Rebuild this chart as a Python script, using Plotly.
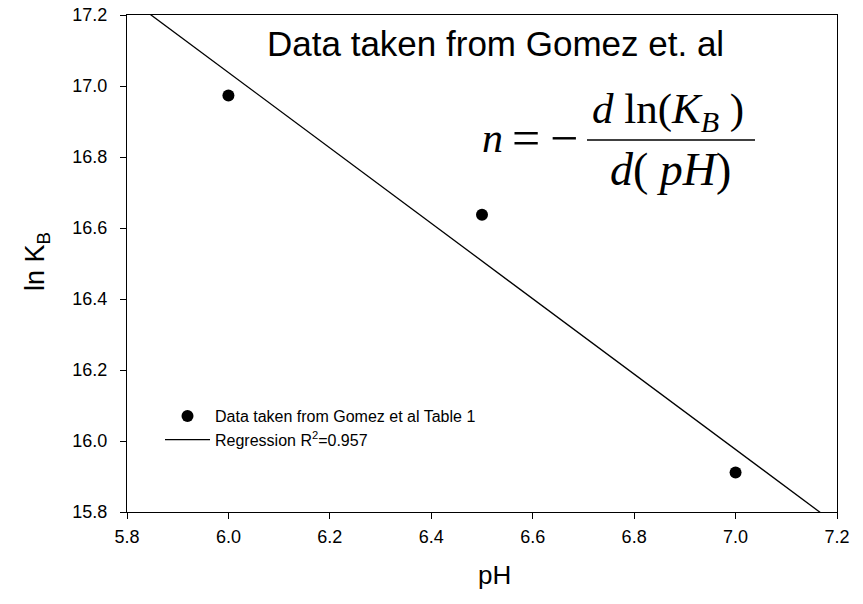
import numpy as np
import plotly.graph_objects as go

# ---- data ----
pH = [6.0, 6.5, 7.0]
ln_KB = [16.973, 16.637, 15.911]
series_names = ["Data taken from Gomez et al Table 1", "Regression R<sup>2</sup>=0.957"]
x_range = [5.8, 7.2]
y_range = [15.8, 17.2]
title_text = "Data taken from Gomez et. al"

# regression fit
slope, intercept = np.polyfit(pH, ln_KB, 1)
x_fit = np.array(x_range)
y_fit = slope * x_fit + intercept

SANS = "Arial, Liberation Sans, sans-serif"
SERIF = "Times New Roman, Liberation Serif, serif"

fig = go.Figure()
fig.add_trace(go.Scatter(
    x=pH, y=ln_KB, mode="markers", name=series_names[0],
    marker=dict(color="black", size=12, line=dict(width=0)),
))
fig.add_trace(go.Scatter(
    x=x_fit, y=y_fit, mode="lines", name=series_names[1],
    line=dict(color="black", width=1.3),
))

W, H = 863, 604
PL, PT, PR, PB = 127, 15, 837, 512          # plot area in page pixels
L, T = PL, PT
R, B = W - PR, H - PB
pw, ph = PR - PL, PB - PT


def px(xp):
    return (xp - PL) / pw


def py(yp):
    return (PB - yp) / ph


annotations = [
    dict(text=title_text, x=px(495), y=py(43), xref="paper", yref="paper",
         showarrow=False, xanchor="center", yanchor="middle",
         font=dict(family=SANS, size=35, color="black")),
    dict(text="pH", x=px(494), y=py(575), xref="paper", yref="paper",
         showarrow=False, xanchor="center", yanchor="middle",
         font=dict(family=SANS, size=26, color="black")),
    dict(text="ln K<sub>B</sub>", x=px(37), y=py(262), xref="paper", yref="paper",
         showarrow=False, xanchor="center", yanchor="middle", textangle=-90,
         font=dict(family=SANS, size=27, color="black")),
    # equation n = - d ln(K_B) / d(pH)
    dict(text="<i>n</i>", x=px(492), y=py(138), xref="paper", yref="paper",
         showarrow=False, xanchor="center", yanchor="middle",
         font=dict(family=SERIF, size=42, color="black")),
    dict(text="=", x=px(526), y=py(138), xref="paper", yref="paper",
         showarrow=False, xanchor="center", yanchor="middle",
         font=dict(family=SERIF, size=50, color="black")),
    dict(text="\u2212", x=px(564), y=py(138), xref="paper", yref="paper",
         showarrow=False, xanchor="center", yanchor="middle",
         font=dict(family=SERIF, size=50, color="black")),
    dict(text="<i>d</i> ln(<i>K</i><sub><i>B</i></sub> )", x=px(668), y=py(112),
         xref="paper", yref="paper",
         showarrow=False, xanchor="center", yanchor="middle",
         font=dict(family=SERIF, size=43, color="black")),
    dict(text="<i>d</i>( <i>pH</i>)", x=px(670), y=py(169), xref="paper", yref="paper",
         showarrow=False, xanchor="center", yanchor="middle",
         font=dict(family=SERIF, size=46, color="black")),
]

shapes = [
    dict(type="line", xref="paper", yref="paper", x0=px(587), x1=px(755),
         y0=py(140), y1=py(140), line=dict(color="black", width=1.6)),
]

axis_common = dict(
    showline=True, linecolor="black", linewidth=1, mirror=True,
    ticks="outside", ticklen=6, tickwidth=1, tickcolor="black",
    showgrid=False, zeroline=False, dtick=0.2, tickformat=".1f",
    tickfont=dict(family=SANS, size=18, color="black"),
    automargin=False,
)

fig.update_layout(
    width=W, height=H,
    margin=dict(l=L, r=R, t=T, b=B),
    paper_bgcolor="white", plot_bgcolor="white",
    xaxis=dict(range=x_range, ticklabelstandoff=2, **axis_common),
    yaxis=dict(range=y_range, ticklabelstandoff=9, **axis_common),
    showlegend=True,
    legend=dict(x=px(160), y=py(399), xanchor="left", yanchor="top",
                bgcolor="rgba(0,0,0,0)", borderwidth=0,
                font=dict(family=SANS, size=16, color="black"),
                itemwidth=45, tracegroupgap=0),
    annotations=annotations,
    shapes=shapes,
)

fig.write_html(
    "out.html",
    config={"displayModeBar": False},
    post_script="document.body.style.margin='0';document.documentElement.style.overflow='hidden';",
)
